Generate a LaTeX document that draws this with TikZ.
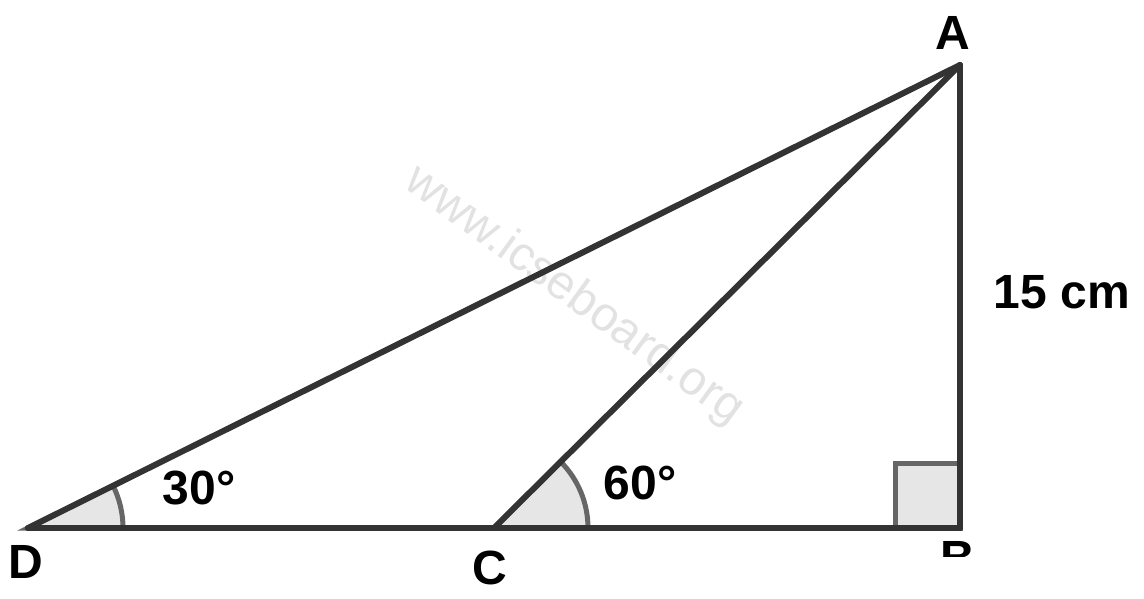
\documentclass[tikz,border=0pt]{standalone}
\usepackage{fontspec}
\setmainfont{Liberation Sans}
\definecolor{linec}{HTML}{333333}
\definecolor{arcc}{HTML}{666666}
\definecolor{fillc}{HTML}{E6E6E6}
\definecolor{wmc}{HTML}{E2E2E2}
\tikzset{
  side/.style={draw=linec,line width=6pt,line cap=round},
  anglemark/.style={draw=arcc,fill=fillc,line width=5pt},
  lbl/.style={font=\fontsize{48}{48}\selectfont\bfseries,text=black,inner sep=0pt},
  wm/.style={font=\fontsize{48}{48}\selectfont,text=wmc,inner sep=0pt}
}
\begin{document}
\begin{tikzpicture}[x=1pt,y=-1pt]
\useasboundingbox (0,0) rectangle (1144,598);
\node[wm,rotate=-36] (wmark) at (574,296) {www.icseboard.org};
\coordinate (D) at (28,528);
\coordinate (C) at (494,528);
\coordinate (B) at (960,528);
\coordinate (A) at (960,65);
% angle marks
\filldraw[anglemark] (D) -- ++(95,0) arc[start angle=0,end angle=-26.4,radius=95] -- cycle;
\filldraw[anglemark] (C) -- ++(94,0) arc[start angle=0,end angle=-44.8,radius=94] -- cycle;
\filldraw[anglemark] (895,528) rectangle (960,463);
% sides
\draw[side] (D) -- (B);
\draw[side] (B) -- (A);
\draw[side] (A) -- (D);
\draw[side] (A) -- (C);
% labels
\node[lbl] (lA) at (953,33) {A};
\node[lbl] (lD) at (26,562) {D};
\node[lbl] (lC) at (490,568) {C};
\node[lbl] (lB) at (958,558) {B};
\fill[white] (920,557) rectangle (1000,598);
\node[lbl] (l15) at (1062,292) {15 cm};
\node[lbl] (l30) at (199,488) {30°};
\node[lbl] (l60) at (640,483) {60°};
\end{tikzpicture}
\end{document}
